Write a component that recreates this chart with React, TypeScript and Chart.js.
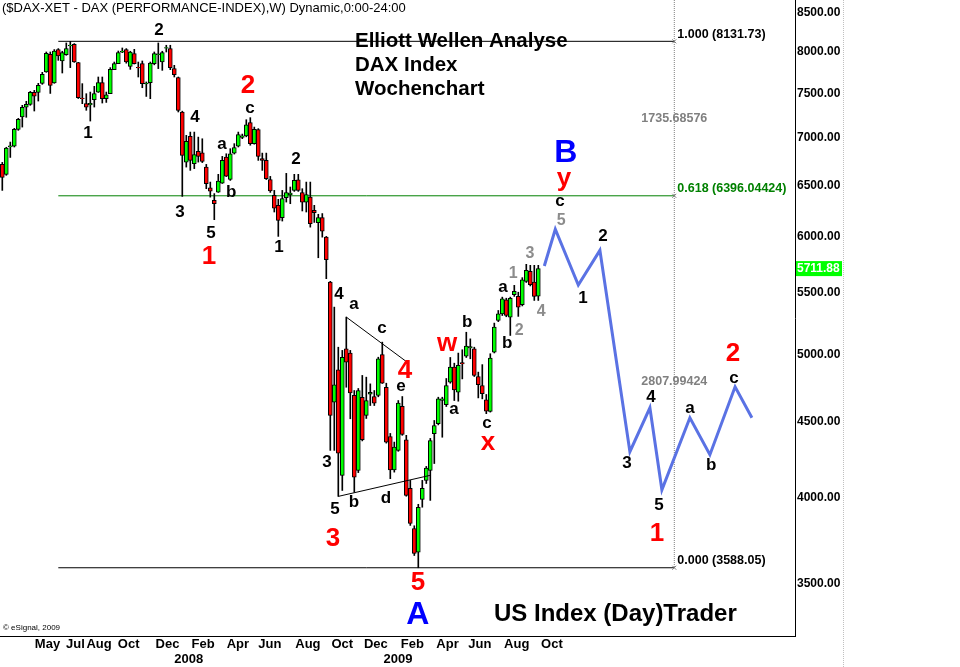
import React, { useEffect, useRef } from 'react';
import { Chart, registerables } from 'chart.js';

Chart.register(...registerables);

const FF = '"Liberation Sans", Arial, Helvetica, sans-serif';

// Weekly DAX candles
const opens = [6716, 6613, 6900, 6910, 7092, 7230, 7342, 7373, 7511, 7511, 7618, 7753, 7969, 7622, 8028, 7887, 7965, 8075, 8094, 7866, 7446, 7381, 7365, 7427, 7515, 7627, 7438, 7496, 7781, 7854, 7995, 8028, 7822, 7978, 7810, 7854, 7610, 7627, 7854, 7965, 7874, 8045, 8040, 7794, 7686, 7286, 6740, 7015, 6723, 6853, 6839, 6688, 6477, 6351, 6433, 6523, 6792, 6561, 6835, 6910, 7003, 7019, 7166, 6936, 7089, 6776, 6758, 6560, 6400, 6302, 6182, 6378, 6407, 6450, 6558, 6427, 6334, 6383, 6253, 6134, 6182, 5998, 5593, 4641, 4881, 4142, 5043, 5009, 4690, 4174, 4677, 4546, 4700, 4682, 4690, 4997, 4750, 4400, 4178, 4306, 4612, 4378, 4059, 3814, 3676, 3990, 4110, 4174, 4419, 4488, 4653, 4623, 4787, 4901, 4714, 4935, 4985, 5050, 5043, 4830, 4763, 4658, 4575, 5017, 5270, 5324, 5442, 5297, 5484, 5470, 5400, 5599, 5687, 5593, 5472];
const highs = [6737, 6897, 6953, 7103, 7214, 7362, 7408, 7523, 7535, 7618, 7749, 7998, 7998, 8028, 8040, 8007, 8111, 8131.73, 8103, 7870, 7614, 7496, 7515, 7582, 7693, 7693, 7515, 7806, 7874, 8010, 8048, 8040, 8007, 8031, 7874, 7887, 7634, 7874, 7998, 8111, 8007, 8082, 8082, 7834, 7693, 7295, 7026, 7062, 7062, 7007, 6989, 6716, 6534, 6418, 6613, 6800, 6828, 6882, 6936, 7062, 7040, 7199, 7222, 7117, 7100, 6835, 6835, 6592, 6450, 6361, 6450, 6623, 6484, 6613, 6613, 6467, 6534, 6534, 6302, 6215, 6222, 6005, 5600, 5380, 5055, 5030, 5297, 5030, 4726, 4741, 4838, 4825, 4775, 4726, 4977, 5095, 4780, 4421, 4362, 4653, 4682, 4408, 4110, 3830, 3960, 4110, 4200, 4387, 4511, 4677, 4677, 4815, 4975, 4931, 5009, 5035, 5174, 5121, 5055, 4863, 4920, 4697, 5004, 5248, 5352, 5464, 5455, 5464, 5565, 5506, 5632, 5750, 5741, 5741, 5741];
const lows = [6450, 6603, 6789, 6900, 7081, 7117, 7226, 7362, 7297, 7411, 7606, 7749, 7499, 7618, 7895, 7741, 7957, 7806, 7870, 7440, 7381, 7305, 7184, 7342, 7511, 7388, 7395, 7496, 7781, 7854, 7990, 7860, 7785, 7850, 7693, 7566, 7464, 7438, 7840, 7794, 7773, 7998, 7781, 7693, 7286, 6390, 6688, 6654, 6672, 6740, 6735, 6467, 6383, 6163, 6430, 6520, 6590, 6551, 6825, 6900, 6990, 7010, 6919, 6930, 6758, 6654, 6560, 6430, 6237, 6005, 6150, 6334, 6318, 6440, 6440, 6247, 6237, 6092, 6137, 5809, 5998, 5623, 4306, 4306, 4009, 4046, 4750, 4523, 4035, 4160, 4370, 4525, 4617, 4617, 4680, 4778, 4355, 4121, 4163, 4300, 4408, 4010, 3832, 3657, 3588.05, 3942, 4090, 3984, 4219, 4480, 4395, 4610, 4780, 4653, 4648, 4812, 4975, 4965, 4830, 4672, 4665, 4559, 4570, 5010, 5260, 5310, 5300, 5148, 5470, 5303, 5390, 5590, 5560, 5436, 5436];
const closes = [6582, 6889, 6912, 7092, 7203, 7339, 7373, 7511, 7468, 7594, 7725, 7982, 7594, 8010, 7948, 7990, 8040, 8085, 7874, 7450, 7437, 7342, 7385, 7496, 7627, 7438, 7484, 7785, 7854, 7990, 8010, 7874, 7998, 7854, 7801, 7614, 7622, 7862, 7978, 7975, 7990, 8052, 7806, 7721, 7305, 6811, 6961, 6758, 6818, 6800, 6747, 6517, 6443, 6318, 6544, 6758, 6595, 6828, 6893, 7034, 7020, 7143, 6936, 7092, 6800, 6758, 6568, 6445, 6275, 6156, 6368, 6427, 6423, 6551, 6450, 6334, 6407, 6124, 6231, 6182, 6054, 5791, 4546, 4768, 4288, 4977, 4939, 4709, 4131, 4726, 4378, 4653, 4712, 4634, 4965, 4780, 4362, 4178, 4328, 4634, 4414, 4015, 3844, 3669, 3942, 4059, 4190, 4373, 4476, 4665, 4665, 4763, 4901, 4731, 4914, 4925, 5063, 5060, 4838, 4770, 4702, 4577, 4970, 5215, 5324, 5450, 5311, 5455, 5513, 5380, 5614, 5696, 5571, 5470, 5711.88];

// Axis ticks
const monthTickPos = [11.3, 18.3, 24.2, 31.6, 41.3, 50.2, 58.9, 66.9, 76.4, 85, 93.4, 102.5, 111.3, 119.4, 128.6, 137.4];
const monthTickLabels = ['May', 'Jul', 'Aug', 'Oct', 'Dec', 'Feb', 'Apr', 'Jun', 'Aug', 'Oct', 'Dec', 'Feb', 'Apr', 'Jun', 'Aug', 'Oct'];
const yearTickPos = [46.6, 98.9];
const yearTickLabels = ['2008', '2009'];
const priceTicks = [3500, 4000, 4500, 5000, 5500, 6000, 6500, 7000, 7500, 8000, 8500];

// Fibonacci retracement
const fibHigh = 8131.73;
const fibMid = 6396.04424;
const fibLow = 3588.05;
const fibStart = 14;
const fibEnd = 168;

// Projected wave path
const projIdx = [135.5, 138.25, 144, 149.4, 156.9, 161.9, 164.9, 171.9, 176.9, 183.2, 187.4];
const projVal = [5735, 6072, 5568, 5876, 4297, 4601, 4050, 4530, 4277, 4753, 4530];

// Triangle trend lines
const triUpperIdx = [86, 100.9];
const triUpperVal = [5297, 4946];
const triLowerIdx = [84, 106.9];
const triLowerVal = [4009, 4142];

// Wave labels: text, week index, price, style
const waveLabels: [string, number, number, string][] = [
  ['2', 39.2, 8274, 'k'], ['1', 21.4, 7048, 'k'], ['2', 61.4, 7594, 'r'], ['c', 61.9, 7328, 'k'],
  ['4', 48.2, 7226, 'k'], ['a', 54.9, 6929, 'k'], ['b', 57.2, 6430, 'k'], ['3', 44.4, 6234, 'k'],
  ['5', 52.2, 6033, 'k'], ['1', 51.7, 5818, 'r'], ['2', 73.4, 6768, 'k'], ['1', 69.2, 5902, 'k'],
  ['4', 84.2, 5487, 'k'], ['a', 87.9, 5402, 'k'], ['c', 94.9, 5204, 'k'], ['4', 100.7, 4876, 'r'],
  ['e', 99.7, 4756, 'k'], ['w', 111.2, 5084, 'r'], ['b', 116.2, 5254, 'k'], ['a', 112.9, 4589, 'k'],
  ['c', 121.2, 4490, 'k'], ['x', 121.4, 4360, 'r'], ['3', 81.2, 4226, 'k'], ['5', 83.2, 3928, 'k'],
  ['b', 87.9, 3972, 'k'], ['d', 95.9, 3996, 'k'], ['3', 82.7, 3755, 'r'], ['5', 103.9, 3505, 'r'],
  ['A', 103.9, 3335, 'B'], ['b', 126.2, 5084, 'k'], ['a', 125.2, 5547, 'k'], ['1', 127.7, 5670, 'g'],
  ['2', 129.2, 5188, 'g'], ['3', 131.9, 5850, 'g'], ['4', 134.7, 5344, 'g'], ['B', 140.9, 6832, 'B'],
  ['y', 140.4, 6572, 'r'], ['c', 139.4, 6341, 'k'], ['5', 139.7, 6156, 'g'], ['2', 150.2, 6005, 'k'],
  ['1', 145.2, 5453, 'k'], ['3', 156.2, 4220, 'k'], ['4', 162.2, 4675, 'k'], ['5', 164.2, 3953, 'k'],
  ['1', 163.7, 3784, 'r'], ['a', 171.9, 4596, 'k'], ['b', 177.2, 4206, 'k'], ['c', 182.9, 4815, 'k'],
  ['2', 182.7, 5000, 'r'],
];

const labelStyles: Record<string, { font: string; color: string }> = {
  k: { font: `bold 17px ${FF}`, color: '#000000' },
  r: { font: `bold 26px ${FF}`, color: '#ff0000' },
  B: { font: `bold 32px ${FF}`, color: '#0000ff' },
  g: { font: `bold 16px ${FF}`, color: '#8c8c8c' },
};

const UP = '#00ff00';
const DOWN = '#ff0000';
const X_MIN = -0.575;
const X_MAX = 198.175;
const Y_MIN = 3227;
const Y_MAX = 8671;

const overlayPlugin = {
  id: 'overlay',
  afterDatasetsDraw(chart: any) {
    const { ctx, scales } = chart;
    const x = scales.x;
    const y = scales.y;
    ctx.save();
    ctx.textAlign = 'center';
    ctx.textBaseline = 'middle';
    for (const [t, i, v, s] of waveLabels) {
      const st = labelStyles[s];
      ctx.font = st.font;
      ctx.fillStyle = st.color;
      ctx.fillText(t, x.getPixelForValue(i), y.getPixelForValue(v));
    }
    ctx.restore();
  },
  afterDraw(chart: any) {
    const { ctx, scales, chartArea } = chart;
    const x = scales.x;
    const y = scales.y;
    ctx.save();

    // header
    ctx.fillStyle = '#000';
    ctx.textAlign = 'left';
    ctx.textBaseline = 'middle';
    ctx.font = `13px ${FF}`;
    ctx.fillText('($DAX-XET - DAX (PERFORMANCE-INDEX),W) Dynamic,0:00-24:00', 2, 8);

    // titles
    ctx.font = `bold 20.5px ${FF}`;
    ctx.fillText('Elliott Wellen Analyse', 355, 41);
    ctx.fillText('DAX Index', 355, 65);
    ctx.fillText('Wochenchart', 355, 89);
    ctx.font = `bold 24px ${FF}`;
    ctx.fillText('US Index (Day)Trader', 494, 614);

    ctx.font = `8px ${FF}`;
    ctx.fillText('\u00a9 eSignal, 2009', 3, 628);

    // fib labels
    const fx = x.getPixelForValue(fibEnd);
    const yH = y.getPixelForValue(fibHigh);
    const yM = y.getPixelForValue(fibMid);
    const yL = y.getPixelForValue(fibLow);
    ctx.font = `bold 12.5px ${FF}`;
    ctx.fillStyle = '#000';
    ctx.fillText(`1.000 (${fibHigh.toFixed(2)})`, fx + 3, yH - 7);
    ctx.fillStyle = '#008000';
    ctx.fillText(`0.618 (${fibMid.toFixed(5)})`, fx + 3, yM - 7);
    ctx.fillStyle = '#000';
    ctx.fillText(`0.000 (${fibLow.toFixed(2)})`, fx + 3, yL - 7);
    ctx.textAlign = 'center';
    ctx.fillStyle = '#808080';
    ctx.fillText((fibHigh - fibMid).toFixed(5), fx, (yH + yM) / 2);
    ctx.fillText((fibMid - fibLow).toFixed(5), fx, (yM + yL) / 2);

    // small x markers on the fib tool
    ctx.strokeStyle = '#808080';
    ctx.lineWidth = 1;
    for (const yy of [yH, yM, yL]) {
      ctx.beginPath();
      ctx.moveTo(fx - 2, yy - 2); ctx.lineTo(fx + 2, yy + 2);
      ctx.moveTo(fx + 2, yy - 2); ctx.lineTo(fx - 2, yy + 2);
      ctx.stroke();
    }

    // last price box
    const lastClose = closes[closes.length - 1];
    const py = y.getPixelForValue(lastClose);
    ctx.fillStyle = '#00ff00';
    ctx.fillRect(chartArea.right + 1, py - 7.5, 46, 15);
    ctx.fillStyle = '#ffffff';
    ctx.textAlign = 'left';
    ctx.font = `bold 12px ${FF}`;
    ctx.fillText(lastClose.toFixed(2), chartArea.right + 2, py);

    // right dotted separator
    ctx.strokeStyle = '#c0c0c0';
    ctx.setLineDash([1, 1]);
    ctx.beginPath();
    ctx.moveTo(843.5, 0);
    ctx.lineTo(843.5, 667);
    ctx.stroke();
    ctx.restore();
  },
};

export default function App() {
  const ref = useRef<HTMLCanvasElement | null>(null);

  useEffect(() => {
    if (!ref.current) return;
    Chart.defaults.font.family = FF;
    const idx = closes.map((_, i) => i);
    const line = (xs: number[], ys: number[], color: string, width: number, order: number, dash: number[] = []) => ({
      type: 'line' as const,
      data: xs.map((xv, k) => ({ x: xv, y: ys[k] })),
      borderColor: color,
      borderWidth: width,
      borderDash: dash,
      pointRadius: 0,
      fill: false,
      tension: 0,
      order,
    });

    const chart = new Chart(ref.current, {
      type: 'bar',
      data: {
        datasets: [
          {
            type: 'bar',
            label: 'body',
            data: idx.map((i) => ({ x: i, y: [Math.min(opens[i], closes[i]), Math.max(opens[i], closes[i])] })) as any,
            backgroundColor: idx.map((i) => (closes[i] >= opens[i] ? UP : DOWN)),
            borderColor: '#000',
            borderWidth: 1,
            borderSkipped: false,
            barThickness: 4,
            grouped: false,
            order: 1,
          } as any,
          {
            type: 'bar',
            label: 'wick',
            data: idx.map((i) => ({ x: i, y: [lows[i], highs[i]] })) as any,
            backgroundColor: '#000',
            borderWidth: 0,
            barThickness: 1,
            grouped: false,
            order: 2,
          } as any,
          line([fibStart, fibEnd], [fibHigh, fibHigh], '#000000', 1, 3),
          line([fibStart, fibEnd], [fibMid, fibMid], '#008000', 1, 3),
          line([fibStart, fibEnd], [fibLow, fibLow], '#000000', 1, 3),
          line([fibEnd, fibEnd], [Y_MAX, fibLow], '#808080', 1, 3, [1, 1]),
          line(triUpperIdx, triUpperVal, '#000000', 1, 0),
          line(triLowerIdx, triLowerVal, '#000000', 1, 0),
          line(projIdx, projVal, '#5a72e4', 3, 0),
        ] as any,
      },
      options: {
        animation: false,
        responsive: false,
        maintainAspectRatio: false,
        devicePixelRatio: 1,
        events: [],
        layout: { padding: 0, autoPadding: false } as any,
        plugins: { legend: { display: false }, tooltip: { enabled: false }, title: { display: false } },
        scales: {
          x: {
            type: 'linear',
            position: 'bottom',
            min: X_MIN,
            max: X_MAX,
            offset: false,
            weight: 0,
            grid: { display: false, drawTicks: false, offset: false },
            border: { display: true, color: '#000', width: 1 },
            ticks: {
              autoSkip: false,
              maxRotation: 0,
              padding: 1,
              color: '#000',
              font: { size: 13, weight: 'bold' },
              callback: (_v: any, i: number) => monthTickLabels[i],
            },
            afterBuildTicks: (s: any) => {
              s.ticks = monthTickPos.map((v) => ({ value: v }));
            },
            afterFit: (s: any) => {
              s.height = 15;
              s.paddingLeft = 0;
              s.paddingRight = 0;
            },
          },
          x2: {
            type: 'linear',
            position: 'bottom',
            min: X_MIN,
            max: X_MAX,
            offset: false,
            weight: 1,
            grid: { display: false, drawTicks: false },
            border: { display: false },
            ticks: {
              autoSkip: false,
              maxRotation: 0,
              padding: 1,
              color: '#000',
              font: { size: 13, weight: 'bold' },
              callback: (_v: any, i: number) => yearTickLabels[i],
            },
            afterBuildTicks: (s: any) => {
              s.ticks = yearTickPos.map((v) => ({ value: v }));
            },
            afterFit: (s: any) => {
              s.height = 16;
              s.paddingLeft = 0;
              s.paddingRight = 0;
            },
          },
          y: {
            type: 'logarithmic',
            position: 'right',
            min: Y_MIN,
            max: Y_MAX,
            grid: { display: false, drawTicks: false },
            border: { display: true, color: '#000', width: 1 },
            ticks: {
              autoSkip: false,
              padding: 2,
              color: '#000',
              font: { size: 12, weight: 'bold' },
              callback: (v: any) => Number(v).toFixed(2),
            },
            afterBuildTicks: (s: any) => {
              s.ticks = priceTicks.map((v) => ({ value: v }));
            },
            afterFit: (s: any) => {
              s.width = 165;
              s.paddingTop = 0;
              s.paddingBottom = 0;
            },
          },
        },
      } as any,
      plugins: [overlayPlugin],
    });
    return () => chart.destroy();
  }, []);

  return (
    <div style={{ position: 'absolute', left: 0, top: 0, width: 960, height: 667, background: '#fff' }}>
      <canvas ref={ref} width={960} height={667} style={{ display: 'block', width: 960, height: 667 }} />
    </div>
  );
}
